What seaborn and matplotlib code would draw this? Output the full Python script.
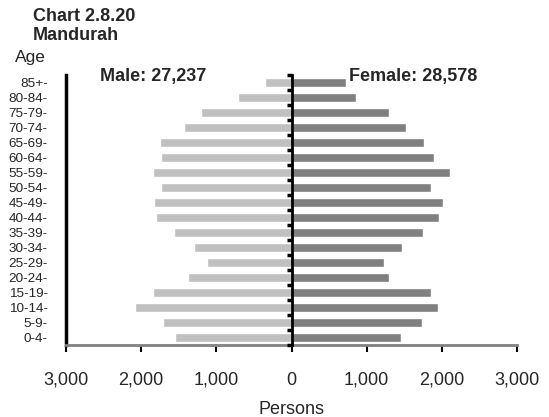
import numpy as np
import pandas as pd
import seaborn as sns
import matplotlib.pyplot as plt
from matplotlib.ticker import FuncFormatter

# groupes d'age, du haut vers le bas
ages = ["85+", "80-84", "75-79", "70-74", "65-69", "60-64", "55-59", "50-54",
        "45-49", "40-44", "35-39", "30-34", "25-29", "20-24", "15-19",
        "10-14", "5-9", "0-4"]
hommes = [346, 718, 1197, 1432, 1751, 1729, 1844, 1729, 1835, 1800,
          1569, 1299, 1130, 1379, 1848, 2079, 1711, 1551]
femmes = [721, 858, 1301, 1523, 1758, 1899, 2104, 1859, 2010, 1957,
          1753, 1465, 1234, 1292, 1851, 1944, 1739, 1452]
x_ticks = [-3000, -2000, -1000, 0, 1000, 2000, 3000]

df = pd.DataFrame({
    "Age": ages * 2,
    "Persons": [-v for v in hommes] + femmes,
    "Sexe": ["Male"] * len(ages) + ["Female"] * len(ages),
})

sns.set_style("white")
plt.rcParams["font.family"] = ["Liberation Sans", "DejaVu Sans"]

fig = plt.figure(figsize=(5.49, 4.17), dpi=100)
ax = fig.add_axes([0.120, 0.172, 0.822, 0.648])

sns.barplot(data=df, x="Persons", y="Age", hue="Sexe", order=ages,
            hue_order=["Male", "Female"], dodge=False, width=0.6,
            palette={"Male": "#c0c0c0", "Female": "#808080"},
            orient="h", legend=False, ax=ax, saturation=1)

ax.set_xlim(-3000, 3000)
ax.set_ylim(len(ages) - 0.5, -0.5)
ax.set_xticks(x_ticks)
ax.xaxis.set_major_formatter(FuncFormatter(lambda v, p: f"{abs(int(v)):,}"))
ax.set_yticklabels([a + "-" for a in ages])
ax.tick_params(axis="y", length=0, labelsize=9.7, pad=13)
ax.tick_params(axis="x", direction="out", length=5, width=1.5, color="black",
               labelsize=13, pad=14, bottom=True)
ax.set_xlabel("Persons", fontsize=13, labelpad=9)
ax.set_ylabel("")

for s in ["top", "right"]:
    ax.spines[s].set_visible(False)
ax.spines["left"].set_color("black")
ax.spines["left"].set_linewidth(2.5)
ax.spines["bottom"].set_color("#808080")
ax.spines["bottom"].set_linewidth(2)

# axe central avec petites graduations
axe0 = ax.secondary_yaxis(0.5)
axe0.set_yticks(np.arange(-0.5, len(ages), 1))
axe0.set_yticklabels([])
axe0.tick_params(direction="in", length=3.5, width=2.5, color="black")
for s in axe0.spines.values():
    s.set_color("black")
    s.set_linewidth(2)
axe0.set_zorder(5)

fig.text(0.060, 0.980, "Chart 2.8.20\nMandurah", fontsize=13, fontweight="bold",
         va="top", ha="left", linespacing=1.15)
fig.text(0.027, 0.845, "Age", fontsize=12.5, ha="left", va="bottom")
ax.text(-2540, -0.4, "Male: 27,237", fontsize=13, fontweight="bold", va="center")
ax.text(760, -0.4, "Female: 28,578", fontsize=13, fontweight="bold", va="center")

fig.savefig("out.png", dpi=100)
